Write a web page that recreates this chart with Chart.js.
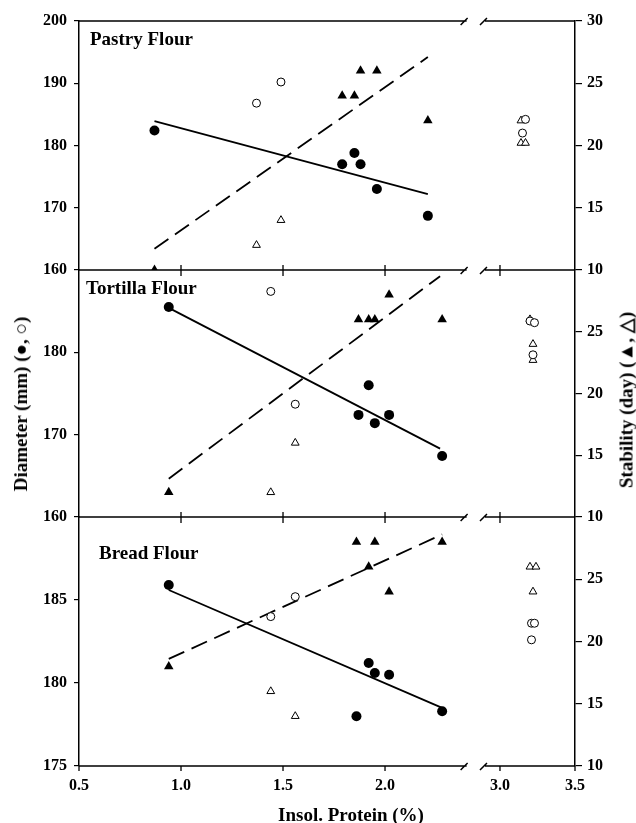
<!DOCTYPE html>
<html>
<head>
<meta charset="utf-8">
<script src="https://cdn.jsdelivr.net/npm/chart.js@4.4.1/dist/chart.umd.min.js"></script>
<style>
  body { margin: 0; background: #fff; }
  #wrap { position: relative; width: 636px; height: 823px; background: #fff; }
  #wrap canvas { position: absolute; left: 0; top: 0; }
  .lbl { position: absolute; font-family: "Liberation Serif", serif; font-weight: bold; color: #000; white-space: nowrap; }
  .rot { transform: translate(-50%, -50%) rotate(-90deg); }
</style>
</head>
<body>
<div id="wrap">
  <canvas id="c1" width="636" height="823"></canvas>
  <canvas id="c2" width="636" height="823"></canvas>
  <canvas id="c3" width="636" height="823"></canvas>
  <div class="lbl" style="left:90px; top:28px; font-size:19px;">Pastry Flour</div>
  <div class="lbl" style="left:86px; top:277px; font-size:19px;">Tortilla Flour</div>
  <div class="lbl" style="left:99px; top:542px; font-size:19px;">Bread Flour</div>
  <div class="lbl rot" style="left:21px; top:404px; font-size:19px;">Diameter (mm) (●, ○)</div>
  <div class="lbl rot" style="left:626px; top:400px; font-size:19px;">Stability (day) (▲, △)</div>
  <div class="lbl" style="left:351px; top:815px; font-size:19px; transform: translate(-50%, -50%);">Insol. Protein (%)</div>
</div>
<script>
// eje x (proteína insoluble, %) con corte entre 2.4 y 2.9
const xTicks = [0.5, 1.0, 1.5, 2.0, 3.0, 3.5];
const xBreak = [2.4, 2.9];

// Pastry Flour
const pastryX = [0.87, 1.79, 1.85, 1.88, 1.96, 2.21];
const pastryDiam = [182.4, 177.0, 178.8, 177.0, 173.0, 168.7];
const pastryStab = [10, 24, 24, 26, 26, 22];
const pastryOpenCircX = [1.37, 1.49, 3.17, 3.15];
const pastryOpenDiam = [186.8, 190.2, 184.2, 182.0];
const pastryOpenTriX = [1.37, 1.49, 3.14, 3.14, 3.17];
const pastryOpenStab = [12, 14, 22, 20.2, 20.2];
const pastryFitX = [0.87, 2.21];
const pastryFitDiam = [183.9, 172.2];
const pastryFitStab = [11.7, 27.1];

// Tortilla Flour
const tortillaX = [0.94, 1.87, 1.92, 1.95, 2.02, 2.28];
const tortillaDiam = [185.5, 172.4, 176.0, 171.4, 172.4, 167.4];
const tortillaStab = [12, 26, 26, 26, 28, 26];
const tortillaOpenCircX = [1.44, 1.56, 3.2, 3.23, 3.22];
const tortillaOpenDiam = [187.4, 173.7, 183.8, 183.6, 179.7];
const tortillaOpenTriX = [1.44, 1.56, 3.2, 3.22, 3.22];
const tortillaOpenStab = [12, 16, 26, 24, 22.7];
const tortillaFitX = [0.94, 2.27];
const tortillaFitDiam = [185.4, 168.3];
const tortillaFitStab = [13.1, 29.5];

// Bread Flour
const breadX = [0.94, 1.86, 1.92, 1.95, 2.02, 2.28];
const breadDiam = [185.9, 178.0, 181.2, 180.6, 180.5, 178.3];
const breadStab = [18, 28, 26, 28, 24, 28];
const breadOpenCircX = [1.44, 1.56, 3.21, 3.23, 3.21];
const breadOpenDiam = [184.0, 185.2, 183.6, 183.6, 182.6];
const breadOpenTriX = [1.44, 1.56, 3.2, 3.24, 3.22];
const breadOpenStab = [16, 14, 26, 26, 24];
const breadFitX = [0.94, 2.28];
const breadFitDiam = [185.6, 178.5];
const breadFitStab = [18.6, 28.6];

// ticks de los ejes y
const diamTicks1 = [160, 170, 180, 190, 200];
const diamTicks2 = [160, 170, 180];
const diamTicks3 = [175, 180, 185];
const stabTicks1 = [10, 15, 20, 25, 30];
const stabTicks23 = [10, 15, 20, 25];

// escala lineal partida: cada tramo ocupa su fracción del ancho
const xSegs = [
  { from: 0.5, to: 2.4, start: 0, end: 0.7815 },
  { from: 2.9, to: 3.5, start: 0.8185, end: 1 }
];

class BrokenScale extends Chart.LinearScale {
  static id = 'broken';
  static defaults = Chart.LinearScale.defaults;
  getPixelForValue(v) {
    if (v === null || v === undefined || isNaN(v)) return NaN;
    const s = v <= (xBreak[0] + xBreak[1]) / 2 ? xSegs[0] : xSegs[1];
    const f = s.start + (v - s.from) / (s.to - s.from) * (s.end - s.start);
    return this.getPixelForDecimal(f);
  }
  getValueForPixel(px) {
    const f = this.getDecimalForPixel(px);
    const s = f <= (xSegs[0].end + xSegs[1].start) / 2 ? xSegs[0] : xSegs[1];
    return s.from + (f - s.start) / (s.end - s.start) * (s.to - s.from);
  }
}
Chart.register(BrokenScale);

const tickFont = { family: 'Liberation Serif', size: 16, weight: 'bold' };

// líneas horizontales con corte y marcas del eje x
const frameLines = {
  id: 'frameLines',
  afterDraw(chart, args, opts) {
    const { ctx, chartArea: a } = chart;
    const x = chart.scales.x;
    const xa = x.getPixelForValue(xBreak[0]);
    const xb = x.getPixelForValue(xBreak[1]);
    ctx.save();
    ctx.strokeStyle = '#000';
    ctx.lineWidth = 1.5;
    const rows = opts.top ? [a.top, a.bottom] : [a.bottom];
    rows.forEach(y => {
      ctx.beginPath();
      ctx.moveTo(a.left, y); ctx.lineTo(xa, y);
      ctx.moveTo(xa - 6, y + 4); ctx.lineTo(xa + 1, y - 3);
      ctx.moveTo(xb - 5, y + 4); ctx.lineTo(xb + 2, y - 3);
      ctx.moveTo(xb, y); ctx.lineTo(a.right, y);
      ctx.stroke();
    });
    ctx.lineWidth = 1.3;
    ctx.beginPath();
    xTicks.forEach(v => {
      const px = x.getPixelForValue(v);
      if (opts.last) {
        ctx.moveTo(px, a.bottom); ctx.lineTo(px, a.bottom + 5);
      } else if (v > xTicks[0] && v < xTicks[xTicks.length - 1]) {
        ctx.moveTo(px, a.bottom - 5); ctx.lineTo(px, a.bottom + 6);
      }
    });
    ctx.stroke();
    ctx.restore();
  }
};

function pts(xs, ys) {
  return xs.map((x, i) => ({ x: x, y: ys[i] }));
}

function yAxis(pos, min, max, ticks) {
  const left = pos === 'left';
  return {
    type: 'linear',
    position: pos,
    min: min,
    max: max,
    afterBuildTicks: s => { s.ticks = ticks.map(v => ({ value: v })); },
    afterFit: s => { s.width = left ? 79 : 61; },
    ticks: { color: '#000', font: tickFont, padding: left ? 7 : 5, autoSkip: false },
    grid: { drawOnChartArea: false, tickLength: left ? 5 : 7, color: '#000', lineWidth: 1.2 },
    border: { color: '#000', width: 1.5 }
  };
}

function panel(id, d, opt) {
  const last = opt.last;
  new Chart(document.getElementById(id), {
    type: 'scatter',
    data: {
      datasets: [
        { data: pts(d.x, d.diam), yAxisID: 'yL', pointStyle: 'circle', pointRadius: 5,
          backgroundColor: '#000', borderColor: '#000', borderWidth: 0 },
        { data: pts(d.ocx, d.odiam), yAxisID: 'yL', pointStyle: 'circle', pointRadius: 4,
          backgroundColor: '#fff', borderColor: '#000', borderWidth: 1 },
        { data: pts(d.x, d.stab), yAxisID: 'yR', pointStyle: 'triangle', pointRadius: 5.5,
          backgroundColor: '#000', borderColor: '#000', borderWidth: 0 },
        { data: pts(d.otx, d.ostab), yAxisID: 'yR', pointStyle: 'triangle', pointRadius: 4.5,
          backgroundColor: '#fff', borderColor: '#000', borderWidth: 1 },
        { data: pts(d.fx, d.fdiam), yAxisID: 'yL', showLine: true, pointRadius: 0,
          borderColor: '#000', borderWidth: 1.8 },
        { data: pts(d.fx, d.fstab), yAxisID: 'yR', showLine: true, pointRadius: 0,
          borderColor: '#000', borderWidth: 1.8, borderDash: [17, 8] }
      ]
    },
    options: {
      responsive: false,
      animation: false,
      events: [],
      layout: { padding: opt.pad },
      plugins: {
        legend: { display: false },
        tooltip: { enabled: false },
        frameLines: { top: opt.top, last: last }
      },
      scales: {
        x: {
          type: 'broken',
          min: 0.5,
          max: 3.5,
          display: last,
          afterBuildTicks: s => { s.ticks = xTicks.map(v => ({ value: v })); },
          afterFit: s => { s.height = last ? 30 : 0; },
          grid: { display: false, drawTicks: false },
          border: { display: false },
          ticks: { color: '#000', font: tickFont, padding: 10, autoSkip: false, maxRotation: 0,
                   callback: v => Number(v).toFixed(1) }
        },
        yL: yAxis('left', d.dmin, d.dmax, d.dticks),
        yR: yAxis('right', 10, 30, d.sticks)
      }
    },
    plugins: [frameLines]
  });
}

panel('c1', {
  x: pastryX, diam: pastryDiam, stab: pastryStab,
  ocx: pastryOpenCircX, odiam: pastryOpenDiam, otx: pastryOpenTriX, ostab: pastryOpenStab,
  fx: pastryFitX, fdiam: pastryFitDiam, fstab: pastryFitStab,
  dmin: 160, dmax: 200, dticks: diamTicks1, sticks: stabTicks1
}, { pad: { top: 21, bottom: 823 - 270, left: 0, right: 0 }, top: true, last: false });

panel('c2', {
  x: tortillaX, diam: tortillaDiam, stab: tortillaStab,
  ocx: tortillaOpenCircX, odiam: tortillaOpenDiam, otx: tortillaOpenTriX, ostab: tortillaOpenStab,
  fx: tortillaFitX, fdiam: tortillaFitDiam, fstab: tortillaFitStab,
  dmin: 160, dmax: 190, dticks: diamTicks2, sticks: stabTicks23
}, { pad: { top: 270, bottom: 823 - 517, left: 0, right: 0 }, top: false, last: false });

panel('c3', {
  x: breadX, diam: breadDiam, stab: breadStab,
  ocx: breadOpenCircX, odiam: breadOpenDiam, otx: breadOpenTriX, ostab: breadOpenStab,
  fx: breadFitX, fdiam: breadFitDiam, fstab: breadFitStab,
  dmin: 175, dmax: 190, dticks: diamTicks3, sticks: stabTicks23
}, { pad: { top: 517, bottom: 823 - 766 - 30, left: 0, right: 0 }, top: false, last: true });
</script>
</body>
</html>
